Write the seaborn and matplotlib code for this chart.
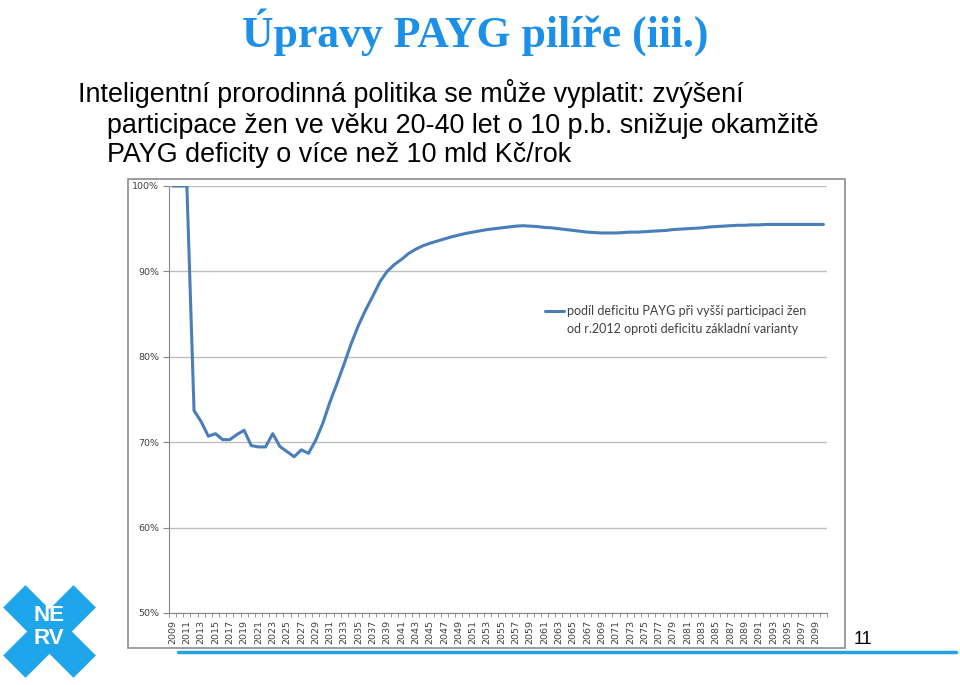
import matplotlib
matplotlib.use("Agg")
import matplotlib.pyplot as plt
from matplotlib.patches import Rectangle
from matplotlib.lines import Line2D
from matplotlib.ticker import PercentFormatter, FixedLocator
import seaborn as sns

# data
years = list(range(2009, 2101))
share = [100.0, 100.0, 100.0, 73.7, 72.4, 70.7, 71.0, 70.3, 70.3, 70.9,
         71.4, 69.6, 69.45, 69.45, 71.0, 69.5, 68.9, 68.3, 69.1, 68.7,
         70.2, 72.2, 74.7, 76.9, 79.2, 81.6, 83.7, 85.5, 87.1, 88.8,
         90.0, 90.8, 91.4, 92.1, 92.6, 93.0, 93.3, 93.55, 93.8, 94.05,
         94.25, 94.45, 94.6, 94.75, 94.9, 95.0, 95.1, 95.2, 95.3, 95.35,
         95.3, 95.25, 95.15, 95.1, 95.0, 94.9, 94.8, 94.7, 94.6, 94.55,
         94.5, 94.5, 94.5, 94.55, 94.6, 94.6, 94.65, 94.7, 94.75, 94.8,
         94.9, 94.95, 95.0, 95.05, 95.1, 95.2, 95.25, 95.3, 95.35, 95.4,
         95.4, 95.45, 95.45, 95.5, 95.5, 95.5, 95.5, 95.5, 95.5, 95.5,
         95.5, 95.5]
series_label = ["podíl deficitu PAYG při vyšší participaci žen",
                "od r.2012 oproti deficitu základní varianty"]
title = "Úpravy PAYG pilíře (iii.)"
body = ["Inteligentní prorodinná politika se může vyplatit: zvýšení",
        "participace žen ve věku 20-40 let o 10 p.b. snižuje okamžitě",
        "PAYG deficity o více než 10 mld Kč/rok"]
y_ticks = [50, 60, 70, 80, 90, 100]
x_labels = list(range(2009, 2100, 2))

sns.set_style("white")
plt.rcParams['font.family'] = ['Liberation Sans', 'DejaVu Sans']

fig = plt.figure(figsize=(9.6, 6.85), dpi=100)
W, H = 960, 685

def fx(px):
    return px / W

def fy(py):
    return 1 - py / H

# slide texts
blue = "#1c8fe6"
fig.text(fx(475), fy(47), title, ha="center", va="baseline", color=blue,
         fontsize=31.5, fontweight="bold", family="Liberation Serif")
fig.text(fx(78), fy(101.5), body[0], ha="left", va="baseline", fontsize=19.4, color="black")
fig.text(fx(107), fy(133), body[1], ha="left", va="baseline", fontsize=19.4, color="black")
fig.text(fx(107), fy(161.5), body[2], ha="left", va="baseline", fontsize=19.4, color="black")

# chart frame
fig.patches.append(Rectangle((fx(128), fy(648)), fx(845) - fx(128), fy(179) - fy(648),
                             transform=fig.transFigure, fill=False,
                             edgecolor="#8c8c8c", linewidth=1.2))

ax = fig.add_axes([fx(169), fy(613), fx(827) - fx(169), fy(186) - fy(613)])
sns.lineplot(x=years, y=share, ax=ax, color="#4a7ebb", linewidth=2.2, legend=False)

ax.set_ylim(50, 100)
ax.set_xlim(2008.5, 2100.5)
ax.set_yticks(y_ticks)
ax.yaxis.set_major_formatter(PercentFormatter(xmax=100, decimals=0))
ax.set_xticks(x_labels)
ax.set_xticklabels([str(y) for y in x_labels], rotation=90)
ax.xaxis.set_minor_locator(FixedLocator([y - 0.5 for y in years] + [2100.5]))
ax.tick_params(axis="x", which="major", length=0, pad=5, labelsize=6.8, labelcolor="#404040")
ax.tick_params(axis="x", which="minor", length=3, direction="out", color="#868686", bottom=True)
ax.tick_params(axis="y", length=4, direction="out", color="#868686", labelsize=6.8,
               labelcolor="#404040", left=True, pad=3)
for lab in ax.get_xticklabels() + ax.get_yticklabels():
    lab.set_family("DejaVu Sans")
ax.grid(axis="y", color="#bfbfbf", linewidth=1)
ax.set_axisbelow(True)
for side in ["top", "right"]:
    ax.spines[side].set_visible(False)
for side in ["left", "bottom"]:
    ax.spines[side].set_color("#868686")
ax.set_xlabel("")
ax.set_ylabel("")

# legend: handle next to the first line only, as in Excel
handles = [Line2D([], [], color="#4a7ebb", linewidth=2.2),
           Line2D([], [], color="none")]
leg = ax.legend(handles, series_label, loc="upper left", bbox_to_anchor=(fx(540), fy(300)),
                bbox_transform=fig.transFigure, frameon=False, handlelength=1.5,
                handletextpad=0.25, labelspacing=0.45, borderaxespad=0,
                prop={"family": "Lato", "size": 9})
for t in leg.get_texts():
    t.set_color("#404040")

# bottom rule and page number
fig.add_artist(Line2D([fx(178), fx(956)], [fy(652), fy(652)], color="#23a3e3", linewidth=2.5,
                      transform=fig.transFigure))
fig.text(fx(863), fy(640), "11", ha="center", va="center", fontsize=13, color="black")

# NERV logo
lax = fig.add_axes([fx(3), fy(678), fx(93), 93 / H])
lax.set_xlim(0, 1)
lax.set_ylim(0, 1)
lax.axis("off")
for ang in (45, -45):
    lax.add_patch(Rectangle((0.5 - 1.07 / 2, 0.5 - 0.34 / 2), 1.07, 0.34, angle=ang,
                            rotation_point="center", color="#1ea5ea", linewidth=0))
lax.text(0.49, 0.67, "NE", ha="center", va="center", color="white", fontsize=16,
         fontweight="bold")
lax.text(0.49, 0.43, "RV", ha="center", va="center", color="white", fontsize=16,
         fontweight="bold")

fig.savefig("out.png", dpi=100)
